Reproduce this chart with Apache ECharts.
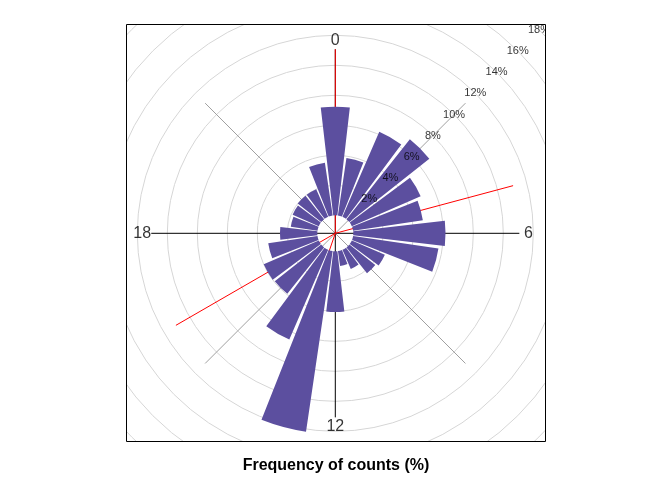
<!DOCTYPE html>
<html><head><meta charset="utf-8">
<script src="https://cdn.jsdelivr.net/npm/echarts@6/dist/echarts.min.js"></script>
<style>html,body{margin:0;padding:0;background:#fff}#c{width:672px;height:480px}</style>
</head><body><div id="c"></div>
<script>
// hour of day categories (direction around the rose)
const hours = ['0','1','2','3','4','5','6','7','8','9','10','11','12','13','14','15','16','17','18','19','20','21','22','23'];
// frequency of counts (%) per hour
const freq = [7.24, 3.88, 6.18, 6.8, 5.0, 4.7, 6.15, 5.75, 2.4, 2.2, 1.4, 1.0, 4.05, 12.17, 6.52, 3.95, 4.0, 3.32, 2.49, 1.8, 1.9, 2.0, 2.0, 3.55];
// radial tick labels (%)
const pctTicks = [2, 4, 6, 8, 10, 12, 14, 16, 18];
// hour labels around the rose and their directions (degrees)
const hourLabels = ['0', '6', '12', '18'];
const hourLabelDirs = [0, 90, 180, 270];
// axis directions (degrees)
const axisDirs = [0, 90, 180, 270];
const diagDirs = [45, 135, 225, 315];
const redDirs = [0, 75, 199, 240];
// extents in % units
const axisLen = 11.07;
const labelRad = 11.67;
const pctLabelDir = 45;

const CX = 335.3, CY = 233.3, R0 = 18, R1 = 288, PMAX = 18;
const OFF = -R0 * PMAX / (R1 - R0);

const chart = echarts.init(document.getElementById('c'), null, {renderer: 'canvas'});
const FONT = '"Liberation Sans", Arial, sans-serif';

function lineSeries(dirs, color, z) {
  return dirs.map(d => ({
    type: 'line', coordinateSystem: 'polar', polarIndex: 1, silent: true,
    data: [[OFF, d], [axisLen, d]], symbol: 'none', z: z,
    lineStyle: {color: color, width: 1}
  }));
}

const option = {
  animation: false,
  polar: [
    {center: [CX, CY], radius: [R0, R1]},
    {center: [CX, CY], radius: [0, R1]}
  ],
  angleAxis: [
    {polarIndex: 0, type: 'category', data: hours, startAngle: 90 + 7.5, clockwise: true,
     axisLine: {show: false}, axisTick: {show: false}, axisLabel: {show: false}, splitLine: {show: false}},
    {polarIndex: 1, type: 'value', min: 0, max: 360, startAngle: 90, clockwise: true, show: false,
     axisLine: {show: false}, axisTick: {show: false}, axisLabel: {show: false}, splitLine: {show: false}}
  ],
  radiusAxis: [
    {polarIndex: 0, type: 'value', min: 0, max: PMAX, interval: 2,
     axisLine: {show: false}, axisTick: {show: false}, axisLabel: {show: false},
     splitLine: {show: true, lineStyle: {width: 1, color: ['rgba(0,0,0,0)', '#d6d6d6', '#d6d6d6', '#d6d6d6', '#d6d6d6', '#d6d6d6', '#d6d6d6', '#d6d6d6', '#d6d6d6', '#d6d6d6']}}},
    {polarIndex: 1, type: 'value', min: OFF, max: PMAX, show: false,
     axisLine: {show: false}, axisTick: {show: false}, axisLabel: {show: false}, splitLine: {show: false}}
  ],
  series: [
    ...lineSeries(diagDirs, '#a0a0a0', 1),
    ...lineSeries(axisDirs, '#000000', 1),
    ...lineSeries(redDirs, '#ff0000', 1.5),
    {
      type: 'bar', coordinateSystem: 'polar', polarIndex: 0, data: freq,
      barCategoryGap: '12%', itemStyle: {color: '#5c4f9f'}, z: 2, silent: true
    },
    {
      type: 'scatter', coordinateSystem: 'polar', polarIndex: 1, silent: true, z: 3,
      data: pctTicks.map(p => [p, pctLabelDir]), symbolSize: 0.1,
      itemStyle: {color: 'rgba(0,0,0,0)'},
      label: {show: true, position: 'inside', formatter: p => p.value[0] + '%',
              fontSize: 11, color: '#000', fontFamily: FONT}
    },
    {
      type: 'scatter', coordinateSystem: 'polar', polarIndex: 1, silent: true, z: 3,
      data: hourLabelDirs.map((d, i) => ({value: [labelRad, d], name: hourLabels[i]})), symbolSize: 0.1,
      itemStyle: {color: 'rgba(0,0,0,0)'},
      label: {show: true, position: 'inside', formatter: p => p.name,
              fontSize: 16, color: '#000', fontFamily: FONT}
    }
  ],
  graphic: [
    {type: 'rect', z: 100, shape: {x: 0, y: 0, width: 672, height: 24}, style: {fill: '#fff'}},
    {type: 'rect', z: 100, shape: {x: 0, y: 442, width: 672, height: 38}, style: {fill: '#fff'}},
    {type: 'rect', z: 100, shape: {x: 0, y: 0, width: 126, height: 480}, style: {fill: '#fff'}},
    {type: 'rect', z: 100, shape: {x: 546, y: 0, width: 126, height: 480}, style: {fill: '#fff'}},
    {type: 'rect', z: 101, shape: {x: 126.5, y: 24.5, width: 419, height: 417}, style: {fill: null, stroke: '#000', lineWidth: 1}},
    {type: 'text', z: 102, x: 336, y: 466, style: {text: 'Frequency of counts (%)', fill: '#000', font: 'bold 16px "Liberation Sans", Arial, sans-serif', textAlign: 'center', textVerticalAlign: 'middle'}}
  ]
};
chart.setOption(option);
</script>
</body></html>
